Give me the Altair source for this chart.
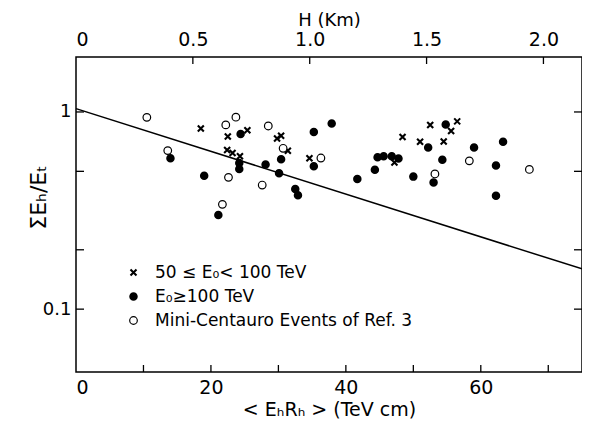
import altair as alt
import pandas as pd

# ---- data ----
cats = ["50 \u2264 E\u2080< 100 TeV", "E\u2080\u2265100 TeV", "Mini-Centauro Events of Ref. 3"]

cross_x = [18.5, 22.5, 25.4, 29.8, 30.4, 31.4, 22.4, 23.2, 24.3, 34.6, 47.2, 48.4, 51.0, 52.5, 54.5, 55.6, 56.5]
cross_y = [0.824, 0.751, 0.808, 0.734, 0.757, 0.636, 0.642, 0.619, 0.596, 0.583, 0.554, 0.747, 0.706, 0.859, 0.708, 0.800, 0.896]

dot_x = [14.0, 19.0, 21.1, 24.4, 24.2, 24.2, 28.1, 30.4, 30.1, 32.5, 32.9, 35.25, 37.9, 35.25, 41.7,
         44.3, 44.7, 45.6, 46.8, 47.8, 50.0, 52.2, 54.8, 54.3, 53.0, 59.0, 63.3, 62.25, 62.25]
dot_y = [0.583, 0.475, 0.300, 0.773, 0.551, 0.514, 0.542, 0.576, 0.489, 0.407, 0.378, 0.791, 0.873, 0.531, 0.457,
         0.509, 0.589, 0.596, 0.597, 0.581, 0.470, 0.661, 0.864, 0.572, 0.439, 0.660, 0.706, 0.535, 0.376]

open_x = [10.5, 13.6, 22.2, 23.7, 28.5, 30.7, 22.6, 21.7, 27.6, 36.3, 53.2, 58.3, 67.2]
open_y = [0.939, 0.637, 0.860, 0.941, 0.849, 0.654, 0.466, 0.340, 0.426, 0.584, 0.485, 0.565, 0.511]

line_x = [0, 75]
line_y = [1.04, 0.16]

x_tick_vals = [10, 20, 30, 40, 50, 60, 70]
x_label_vals = [0, 20, 40, 60]
h_tick_vals = [0.5, 1.0, 1.5, 2.0]
h_label_vals = [0, 0.5, 1.0, 1.5, 2.0]
y_tick_vals = [1, 0.5, 0.2, 0.1]
y_label_vals = [1, 0.1]

x_domain = [0, 75]
h_domain = [0, 2.165]
y_domain = [0.048, 1.9]

W, H = 506, 315
FONT = "DejaVu Sans"

df = pd.DataFrame({
    "x": cross_x + dot_x + open_x,
    "y": cross_y + dot_y + open_y,
    "cat": [cats[0]] * len(cross_x) + [cats[1]] * len(dot_x) + [cats[2]] * len(open_x),
})

xscale = alt.Scale(domain=x_domain, nice=False, zero=False)
yscale = alt.Scale(type="log", domain=y_domain, nice=False)

common = dict(grid=False, ticks=False, domain=False, labelColor="black", titleColor="black",
              labelFont=FONT, titleFont=FONT, titleFontWeight="normal")

xaxis = alt.Axis(values=x_label_vals, title="< E\u2095R\u2095 > (TeV cm)", titleFontSize=19,
                 labelPadding=6, titlePadding=3, format="d", labelFontSize=19, **common)
yaxis = alt.Axis(values=y_label_vals, labelExpr="datum.value >= 1 ? '1' : '0.1'",
                 title="\u03a3E\u2095/E\u209c", titleFontSize=22, labelFontSize=18,
                 labelPadding=5, titleX=-38, titleY=140, titleAlign="center", titleBaseline="middle",
                 **common)


def X(field):
    return alt.X(f"{field}:Q", scale=xscale, axis=xaxis)


def Y(field):
    return alt.Y(f"{field}:Q", scale=yscale, axis=yaxis)


leg = alt.Legend(title=None, orient="none", legendX=49, legendY=207, labelFontSize=17,
                 labelFont=FONT, symbolStrokeColor="black",
                 rowPadding=6, labelOffset=13, labelColor="black", labelLimit=0)

points = alt.Chart(df).mark_point(opacity=1).encode(
    x=X("x"), y=Y("y"),
    shape=alt.Shape("cat:N", scale=alt.Scale(domain=cats, range=["M-1,-1L1,1M-1,1L1,-1", "circle", "circle"]), legend=leg),
    fill=alt.Fill("cat:N", scale=alt.Scale(domain=cats, range=["transparent", "black", "white"]), legend=leg),
    stroke=alt.Stroke("cat:N", scale=alt.Scale(domain=cats, range=["black", "black", "black"]), legend=leg),
    strokeWidth=alt.StrokeWidth("cat:N", scale=alt.Scale(domain=cats, range=[2.1, 1.2, 1.5]), legend=leg),
    size=alt.Size("cat:N", scale=alt.Scale(domain=cats, range=[36, 58, 115]), legend=leg),
)

line = alt.Chart(pd.DataFrame({"lx": line_x, "ly": line_y})).mark_line(color="black", strokeWidth=1.5).encode(
    x=X("lx"), y=Y("ly"))

bottom_ticks = alt.Chart(pd.DataFrame({"t": x_tick_vals})).mark_rule(color="black", strokeWidth=1.3).encode(
    x=X("t"), y=alt.value(H), y2=alt.value(H - 7))

ydf = pd.DataFrame({"v": y_tick_vals})
left_ticks = alt.Chart(ydf).mark_rule(color="black", strokeWidth=1.3).encode(
    y=Y("v"), x=alt.value(0), x2=alt.value(8))
right_ticks = alt.Chart(ydf).mark_rule(color="black", strokeWidth=1.3).encode(
    y=Y("v"), x=alt.value(W), x2=alt.value(W - 8))

inner = alt.layer(line, bottom_ticks, left_ticks, right_ticks, points)

top_ticks = alt.Chart(pd.DataFrame({"h": h_tick_vals})).mark_rule(color="black", strokeWidth=1.3).encode(
    x=alt.X("h:Q", scale=alt.Scale(domain=h_domain, nice=False, zero=False),
            axis=alt.Axis(orient="top", values=h_label_vals,
                          labelExpr="datum.value == 0 ? '0' : format(datum.value, '.1f')",
                          title="H (Km)", titleFontSize=18, labelFontSize=19,
                          labelPadding=8, titlePadding=1, **common)),
    y=alt.value(0), y2=alt.value(7))

chart = alt.layer(inner, top_ticks).resolve_scale(x="independent").properties(
    width=W, height=H,
    background="white",
    autosize=alt.AutoSizeParams(type="none"),
    padding={"left": 68, "top": 49, "right": 0, "bottom": 55},
).configure_view(stroke="black", strokeWidth=1.5)

chart.save("out.html", embed_options={"renderer": "svg", "actions": False})
